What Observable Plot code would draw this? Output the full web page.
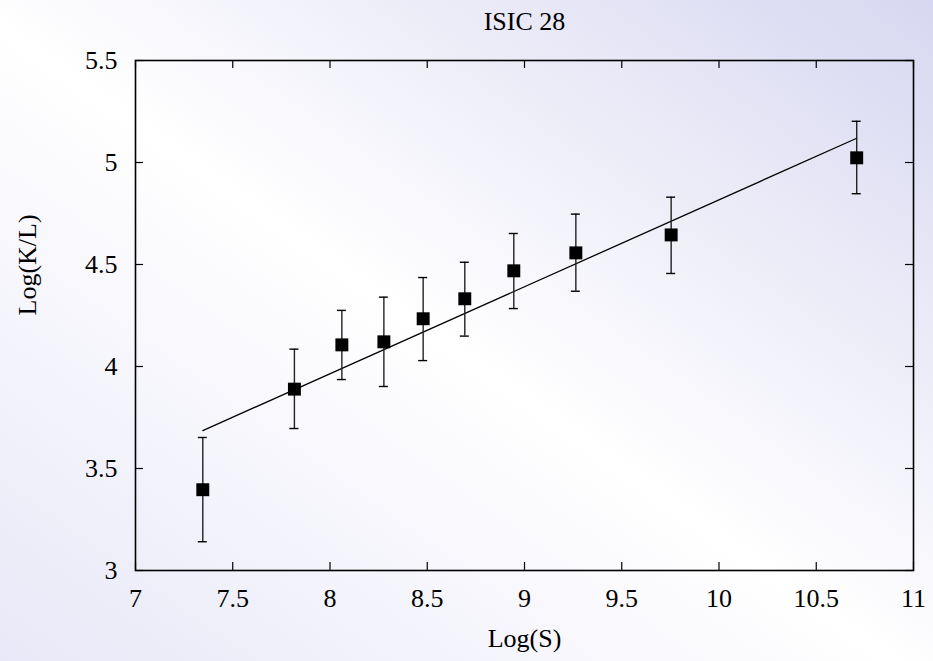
<!DOCTYPE html>
<html>
<head>
<meta charset="utf-8">
<script src="https://cdn.jsdelivr.net/npm/d3@7"></script>
<script src="https://cdn.jsdelivr.net/npm/@observablehq/plot@0.6"></script>
<style>
  html, body { margin: 0; padding: 0; }
  body {
    width: 933px; height: 661px; overflow: hidden;
    background: linear-gradient(to bottom left, #d7d7f1 0%, #ffffff 52%, #e8e8f8 100%);
  }
  svg { display: block; }
  svg, svg text { font-family: "Liberation Serif", "DejaVu Serif", serif; }
</style>
</head>
<body>
<div id="chart"></div>
<script>
// Data
const logS   = [7.346, 7.817, 8.061, 8.277, 8.479, 8.693, 8.945, 9.264, 9.754, 10.708];
const logKL  = [3.396, 3.889, 4.106, 4.121, 4.234, 4.332, 4.469, 4.557, 4.645, 5.023];
const errHi  = [3.652, 4.085, 4.275, 4.340, 4.436, 4.511, 4.652, 4.747, 4.830, 5.202];
const errLo  = [3.141, 3.696, 3.936, 3.902, 4.029, 4.149, 4.284, 4.369, 4.456, 4.847];
const fitX   = [7.346, 10.708];
const fitY   = [3.686, 5.119];
const xTicks = [7, 7.5, 8, 8.5, 9, 9.5, 10, 10.5, 11];
const yTicks = [3, 3.5, 4, 4.5, 5, 5.5];
const title = "ISIC 28";
const xLabel = "Log(S)";
const yLabel = "Log(K/L)";

const points = logS.map((x, i) => ({x, y: logKL[i], hi: errHi[i], lo: errLo[i]}));
const fit = fitX.map((x, i) => ({x, y: fitY[i]}));

const W = 933, H = 661;
const mT = 60, mR = 20, mB = 91, mL = 135;
const fw = W - mL - mR, fh = H - mT - mB;
const tickLen = 8;
const fs = 26;

const chart = Plot.plot({
  width: W,
  height: H,
  marginTop: mT, marginRight: mR, marginBottom: mB, marginLeft: mL,
  style: {fontFamily: "Liberation Serif, DejaVu Serif, serif", fontSize: fs + "px", background: "transparent", color: "black", overflow: "visible"},
  x: {domain: [7, 11], ticks: xTicks},
  y: {domain: [3, 5.5], ticks: yTicks},
  marks: [
    // tick labels
    Plot.axisX(xTicks, {anchor: "bottom", tickSize: 0, tickPadding: 18.5, tickFormat: d => String(d), label: null, fontSize: fs}),
    Plot.axisY(yTicks, {anchor: "left", tickSize: 0, tickPadding: 18, tickFormat: d => String(d), label: null, fontSize: fs}),
    // inward ticks on all four sides
    Plot.tickX(xTicks, {x: d => d, insetTop: fh - tickLen, stroke: "black", strokeWidth: 1.2}),
    Plot.tickX(xTicks, {x: d => d, insetBottom: fh - tickLen, stroke: "black", strokeWidth: 1.2}),
    Plot.tickY(yTicks, {y: d => d, insetRight: fw - tickLen, stroke: "black", strokeWidth: 1.2}),
    Plot.tickY(yTicks, {y: d => d, insetLeft: fw - tickLen, stroke: "black", strokeWidth: 1.2}),
    // frame
    Plot.frame({stroke: "black", strokeWidth: 1.6}),
    // fit line
    Plot.line(fit, {x: "x", y: "y", stroke: "black", strokeWidth: 1.3}),
    // error bars
    Plot.ruleX(points, {x: "x", y1: "lo", y2: "hi", stroke: "#222", strokeWidth: 1.4}),
    Plot.ruleY(points, {y: "hi", x1: "x", x2: "x", insetLeft: -4.5, insetRight: -4.5, stroke: "black", strokeWidth: 1.4}),
    Plot.ruleY(points, {y: "lo", x1: "x", x2: "x", insetLeft: -4.5, insetRight: -4.5, stroke: "black", strokeWidth: 1.4}),
    // markers
    Plot.dot(points, {x: "x", y: "y", symbol: "square", r: 7.3, fill: "black", stroke: "none"}),
    // title and axis labels
    Plot.text([title], {frameAnchor: "top", dy: -39, lineAnchor: "middle", fontSize: fs, fill: "black"}),
    Plot.text([xLabel], {frameAnchor: "bottom", dy: 68, lineAnchor: "middle", fontSize: fs, fill: "black"}),
    Plot.text([yLabel], {frameAnchor: "left", dx: -108, rotate: -90, lineAnchor: "middle", fontSize: fs, fill: "black"})
  ]
});
document.getElementById("chart").appendChild(chart);
</script>
</body>
</html>
